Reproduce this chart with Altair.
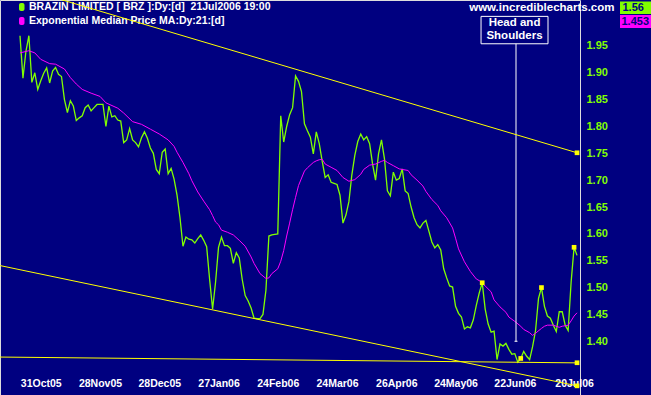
import altair as alt
import pandas as pd

# ---- price (close) per trading bar, bar 0 = first bar, bar 188 = 21Jul2006
price_values = [
    1.969, 1.89, 1.94, 1.969, 1.882, 1.90, 1.869, 1.885, 1.899, 1.909,
    1.881, 1.903, 1.91, 1.897, 1.893, 1.85, 1.826, 1.848, 1.838, 1.811,
    1.816, 1.82, 1.835, 1.84, 1.829, 1.835, 1.841, 1.841, 1.841, 1.80,
    1.838, 1.818, 1.82, 1.812, 1.81, 1.77, 1.775, 1.796, 1.775, 1.77,
    1.762, 1.779, 1.79, 1.778, 1.76, 1.75, 1.72, 1.712, 1.752, 1.758,
    1.712, 1.722, 1.702, 1.672, 1.63, 1.577, 1.594, 1.59, 1.589, 1.583,
    1.591, 1.598, 1.588, 1.576, 1.515, 1.46, 1.51, 1.575, 1.594, 1.578,
    1.578, 1.573, 1.545, 1.565, 1.555, 1.515, 1.485, 1.475, 1.462, 1.443,
    1.442, 1.442, 1.45, 1.495, 1.596, 1.598, 1.599, 1.60, 1.82, 1.771,
    1.80, 1.822, 1.835, 1.894, 1.884, 1.865, 1.805, 1.792, 1.78, 1.749,
    1.79, 1.768, 1.735, 1.705, 1.71, 1.696, 1.694, 1.692, 1.672, 1.62,
    1.635, 1.66, 1.71, 1.746, 1.772, 1.786, 1.775, 1.781, 1.768, 1.73,
    1.70, 1.749, 1.775, 1.74, 1.68, 1.671, 1.715, 1.70, 1.703, 1.721,
    1.68, 1.675, 1.65, 1.63, 1.617, 1.611, 1.62, 1.625, 1.605, 1.585,
    1.574, 1.58, 1.57, 1.535, 1.518, 1.503, 1.501, 1.465, 1.452, 1.445,
    1.423, 1.427, 1.425, 1.44, 1.467, 1.49, 1.509, 1.46, 1.432, 1.417,
    1.419, 1.366, 1.395, 1.391, 1.396, 1.385, 1.376, 1.377, 1.361, 1.368,
    1.381, 1.372, 1.366, 1.39, 1.42, 1.48, 1.50, 1.465, 1.447, 1.443,
    1.43, 1.418, 1.455, 1.455, 1.43, 1.42, 1.51, 1.575, 1.56,
]
price_index = list(range(len(price_values)))

# ---- Exponential Median Price MA (21)
ma_index = [0, 3, 5, 7, 10, 12, 15, 17, 19, 21, 24, 27, 29, 33, 35, 38, 41, 44,
            47, 50, 52, 53, 55, 57, 58, 60, 62, 64, 65, 66, 67, 68, 70, 72, 74,
            76, 78, 79, 81, 83, 84, 85, 87, 88, 89, 90, 91, 92, 93, 94, 96, 97,
            99, 100, 101, 102, 103, 105, 107, 109, 111, 113, 115, 116, 118, 120,
            122, 123, 124, 126, 128, 131, 132, 134, 136, 137, 139, 141, 142, 144,
            146, 147, 148, 150, 152, 154, 155, 157, 159, 160, 162, 164, 165, 167,
            169, 170, 172, 173, 174, 176, 177, 178, 180, 182, 183, 185, 186, 187,
            188]
ma_values = [1.937, 1.941, 1.937, 1.925, 1.917, 1.916, 1.907, 1.891, 1.879, 1.869,
             1.862, 1.856, 1.844, 1.834, 1.825, 1.809, 1.804, 1.795, 1.786, 1.775,
             1.763, 1.752, 1.733, 1.712, 1.699, 1.678, 1.661, 1.645, 1.634, 1.622,
             1.617, 1.607, 1.603, 1.598, 1.588, 1.577, 1.557, 1.545, 1.526, 1.517,
             1.518, 1.526, 1.535, 1.549, 1.569, 1.596, 1.620, 1.645, 1.668, 1.69,
             1.717, 1.723, 1.733, 1.736, 1.738, 1.739, 1.730, 1.724, 1.718, 1.705,
             1.698, 1.701, 1.711, 1.720, 1.728, 1.730, 1.735, 1.737, 1.733, 1.727,
             1.721, 1.718, 1.71, 1.70, 1.689, 1.679, 1.664, 1.653, 1.643, 1.63,
             1.611, 1.592, 1.572, 1.548, 1.530, 1.516, 1.513, 1.503, 1.492, 1.477,
             1.464, 1.454, 1.445, 1.437, 1.428, 1.422, 1.416, 1.411, 1.415, 1.424,
             1.428, 1.43, 1.43, 1.426, 1.428, 1.43, 1.438, 1.447, 1.453]

# ---- axes
tick_index = [7, 27, 47, 67, 87, 107, 127, 147, 167, 187]
tick_labels = ["31Oct05", "28Nov05", "28Dec05", "27Jan06", "24Feb06",
               "24Mar06", "26Apr06", "24May06", "22Jun06", "20Jul06"]
y_ticks = [1.40, 1.45, 1.50, 1.55, 1.60, 1.65, 1.70, 1.75, 1.80, 1.85, 1.90, 1.95]

# ---- trendlines and pivot markers
upper_idx, upper_val = [0, 188], [2.059, 1.751]
lower_idx, lower_val = [-6.75, 188], [1.541, 1.317]
support_idx, support_val = [-6.75, 188], [1.3706, 1.3598]
marker_idx = [156, 169, 176, 187, 188, 188, 188]
marker_val = [1.509, 1.368, 1.50, 1.575, 1.751, 1.317, 1.36]

# ---- annotation
ann_text = ["Head and", "Shoulders"]
ann_text_y = [1.993, 1.969]
ann_x = 167.4
ann_box = dict(x=155.6, x2=178.2, y=1.954, y2=2.005)
ann_point = 1.40

legend_1 = "BRAZIN LIMITED [ BRZ ]:Dy:[d]\u00a0 21Jul2006 19:00"
legend_2 = "Exponential Median Price MA:Dy:21:[d]"
site = "www.incrediblecharts.com"
last_price = "1.56"
last_ma = "1.453"

GREEN = "#80FF00"
MAGENTA = "#FF00FF"
YELLOW = "#FFFF00"
NAVY = "#000080"
FONT = "Liberation Sans"

label_expr = " : ".join(f"datum.value == {i} ? '{l}'" for i, l in zip(tick_index, tick_labels)) + " : ''"

xscale = alt.Scale(domain=[-6.75, 189.0], nice=False, zero=False)
yscale = alt.Scale(domain=[1.29995, 2.0355], nice=False, zero=False)


def X(field="i"):
    return alt.X(f"{field}:Q", scale=xscale, axis=alt.Axis(
        values=tick_index, labelExpr=label_expr, ticks=False, tickSize=0,
        domain=False, grid=False, labelColor="white", labelFont=FONT,
        labelFontWeight="bold", labelFontSize=10.5, labelPadding=0,
        labelBaseline="middle", offset=-12, title=None, labelOverlap=False,
        labelFlush=False))


def Y(field="v"):
    return alt.Y(f"{field}:Q", scale=yscale, axis=alt.Axis(
        orient="right", values=y_ticks, format=".2f", ticks=False, tickSize=0,
        domain=False, grid=False, labelColor=GREEN, labelFont=FONT,
        labelFontWeight="bold", labelFontSize=11, labelPadding=6,
        labelBaseline="middle", title=None, labelOverlap=False, labelFlush=False))


def overlay_text(txt, x, y, color, size, align="left"):
    return alt.Chart(pd.DataFrame({"t": [txt]})).mark_text(
        color=color, font=FONT, fontWeight="bold", fontSize=size, align=align,
        baseline="middle").encode(x=alt.value(x), y=alt.value(y), text="t:N")


def overlay_rect(x, x2, y, y2, color, radius=0):
    return alt.Chart(pd.DataFrame({"a": [0]})).mark_rect(
        color=color, cornerRadius=radius).encode(
        x=alt.value(x), x2=alt.value(x2), y=alt.value(y), y2=alt.value(y2))


price_df = pd.DataFrame({"i": price_index, "v": price_values})
ma_df = pd.DataFrame({"i": ma_index, "v": ma_values})

price = alt.Chart(price_df).mark_line(color=GREEN, strokeWidth=1.3).encode(x=X(), y=Y())
ma = alt.Chart(ma_df).mark_line(color=MAGENTA, strokeWidth=1).encode(x=X(), y=Y())

upper = alt.Chart(pd.DataFrame({"i": upper_idx, "v": upper_val})).mark_line(
    color=YELLOW, strokeWidth=1, clip=True).encode(x=X(), y=Y())
lower = alt.Chart(pd.DataFrame({"i": lower_idx, "v": lower_val})).mark_line(
    color=YELLOW, strokeWidth=1).encode(x=X(), y=Y())
support = alt.Chart(pd.DataFrame({"i": support_idx, "v": support_val})).mark_line(
    color=YELLOW, strokeWidth=1).encode(x=X(), y=Y())
markers = alt.Chart(pd.DataFrame({"i": marker_idx, "v": marker_val})).mark_square(
    color=YELLOW, size=22, opacity=1).encode(x=X(), y=Y())

box = alt.Chart(pd.DataFrame({"i": [ann_box["x"]], "i2": [ann_box["x2"]],
                              "v": [ann_box["y"]], "v2": [ann_box["y2"]]})).mark_rect(
    fill=NAVY, stroke="white", strokeWidth=1).encode(x=X(), x2="i2:Q", y=Y(), y2="v2:Q")
ann_line = alt.Chart(pd.DataFrame({"i": [ann_x], "v": [ann_point], "v2": [ann_box["y"]]})).mark_rule(
    color="white", strokeWidth=1).encode(x=X(), y=Y(), y2="v2:Q")
ann_tick = alt.Chart(pd.DataFrame({"i": [ann_x - 0.5], "i2": [ann_x + 0.5], "v": [ann_point]})).mark_rule(
    color="white", strokeWidth=1).encode(x=X(), x2="i2:Q", y=Y())
ann_label = alt.Chart(pd.DataFrame({"i": [ann_x - 0.5] * 2, "v": ann_text_y, "t": ann_text})).mark_text(
    color="white", font=FONT, fontWeight="bold", fontSize=11.5, align="center",
    baseline="middle").encode(x=X(), y=Y(), text="t:N")

overlays = [
    overlay_rect(19, 24.5, 3, 11, GREEN, 2),
    overlay_rect(19, 24.5, 17, 25, MAGENTA, 2),
    overlay_text(legend_1, 29, 7, "white", 10.5),
    overlay_text(legend_2, 29, 21, "white", 10.5),
    overlay_text(site, 614.5, 8, "white", 11.5, "right"),
    overlay_rect(620, 651, 1.5, 14, GREEN),
    overlay_rect(620, 651, 15, 28, MAGENTA),
    overlay_text(last_price, 622.5, 7.5, NAVY, 11),
    overlay_text(last_ma, 621.5, 21.5, NAVY, 11),
]

chart = alt.layer(
    price, ma, box, ann_line, ann_tick, ann_label, *overlays,
    upper, lower, support, markers,
).properties(
    width=580, height=395,
    padding={"left": 0, "top": 0, "right": 71, "bottom": 0},
    autosize=alt.AutoSizeParams(type="none"),
    background=NAVY,
).configure_view(strokeWidth=0).configure(font=FONT)

chart.save("out.html", embed_options={"renderer": "svg", "actions": False})
